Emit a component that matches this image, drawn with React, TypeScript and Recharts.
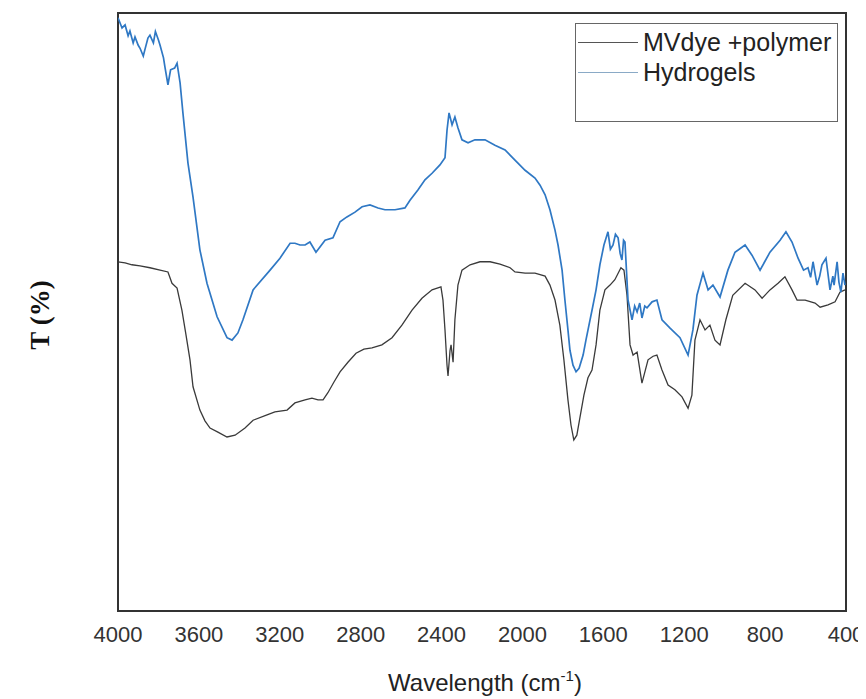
import React from "react";
import { LineChart, Line, XAxis, YAxis, ReferenceArea, Legend } from "recharts";

// Wavenumber (cm^-1) and transmittance (arbitrary %, 0-100 frame scale)
const mvWavenumber = [
  4000, 3965, 3931, 3891, 3842, 3792, 3753, 3733,
  3708, 3684, 3664, 3644, 3629, 3595, 3570, 3545,
  3506, 3461, 3421, 3372, 3332, 3263, 3224, 3164,
  3125, 3075, 3041, 3011, 2986, 2962, 2932, 2902,
  2863, 2823, 2784, 2744, 2695, 2645, 2596, 2546,
  2497, 2447, 2403, 2393, 2383, 2373, 2368, 2358,
  2353, 2343, 2334, 2319, 2299, 2259, 2210, 2160,
  2111, 2061, 2037, 1987, 1938, 1888, 1864, 1839,
  1815, 1795, 1775, 1760, 1746, 1731, 1716, 1696,
  1676, 1656, 1636, 1617, 1592, 1567, 1543, 1513,
  1498, 1483, 1468, 1453, 1433, 1409, 1379, 1354,
  1335, 1310, 1280, 1246, 1211, 1181, 1162, 1147,
  1122, 1097, 1073, 1048, 1023, 994, 960, 899,
  850, 815, 776, 736, 702, 667, 642, 602,
  553, 528, 489, 454, 430, 405,
];
const mvTransmittance = [
  58.4, 58.2, 57.9, 57.7, 57.4, 57.0, 56.7, 54.8,
  54.0, 50.3, 46.2, 42.0, 37.5, 33.6, 31.8, 30.6,
  29.9, 29.1, 29.4, 30.6, 31.9, 32.8, 33.3, 33.6,
  34.8, 35.3, 35.6, 35.3, 35.3, 36.5, 38.3, 40.0,
  41.6, 43.1, 43.8, 44.0, 44.5, 45.7, 47.8, 50.3,
  52.3, 53.7, 54.2, 52.0, 47.0, 41.1, 39.3, 43.6,
  44.5, 41.6, 48.7, 54.5, 57.0, 57.9, 58.4, 58.4,
  58.0, 57.4, 56.7, 56.5, 56.5, 56.0, 54.5, 52.0,
  47.8, 42.0, 35.3, 31.1, 28.6, 29.4, 32.3, 36.1,
  39.0, 40.3, 44.5, 50.3, 53.7, 54.5, 55.4, 57.4,
  57.0, 52.8, 44.5, 42.8, 43.3, 38.1, 42.0, 42.6,
  42.8, 40.3, 37.8, 37.0, 35.8, 33.9, 36.1, 45.3,
  48.7, 47.0, 47.8, 45.3, 44.5, 48.7, 52.8, 54.8,
  53.7, 52.3, 53.7, 54.8, 55.9, 53.7, 52.0, 52.0,
  51.5, 50.8, 51.2, 51.7, 53.3, 53.7,
];

const hgWavenumber = [
  4000, 3980, 3965, 3950, 3941, 3925, 3916, 3900,
  3891, 3875, 3866, 3852, 3842, 3825, 3815, 3800,
  3792, 3775, 3768, 3753, 3740, 3720, 3708, 3693,
  3679, 3654, 3629, 3595, 3560, 3510, 3461, 3436,
  3407, 3382, 3332, 3248, 3199, 3149, 3125, 3100,
  3075, 3051, 3021, 2976, 2937, 2902, 2868, 2828,
  2793, 2754, 2714, 2680, 2630, 2581, 2556, 2517,
  2482, 2447, 2408, 2383, 2373, 2363, 2348, 2334,
  2319, 2299, 2269, 2235, 2185, 2136, 2086, 2037,
  1987, 1938, 1913, 1888, 1864, 1839, 1824, 1804,
  1790, 1775, 1765, 1750, 1735, 1720, 1700, 1686,
  1671, 1656, 1636, 1617, 1597, 1577, 1565, 1552,
  1540, 1527, 1517, 1508, 1500, 1493, 1478, 1458,
  1445, 1433, 1420, 1409, 1395, 1384, 1359, 1335,
  1310, 1270, 1221, 1181, 1157, 1137, 1107, 1082,
  1058, 1023, 984, 949, 899, 865, 825, 776,
  726, 697, 667, 637, 610, 588, 575, 563,
  543, 530, 519, 499, 479, 465, 459, 444,
  435, 425, 415, 405,
];
const hgTransmittance = [
  99.2, 97.5, 98.0, 96.2, 97.0, 95.0, 96.0, 94.6,
  94.1, 92.8, 94.0, 95.8, 96.3, 95.0, 96.9, 95.5,
  94.6, 92.5, 91.0, 88.0, 90.5, 90.8, 91.6, 88.3,
  83.3, 74.9, 69.2, 60.4, 54.8, 49.2, 45.7, 45.3,
  46.5, 48.7, 53.7, 57.0, 59.0, 61.5, 61.5, 61.2,
  61.2, 61.7, 60.0, 62.0, 62.4, 65.1, 65.9, 66.7,
  67.6, 67.9, 67.4, 67.1, 67.1, 67.4, 68.7, 70.4,
  72.1, 73.2, 74.6, 75.8, 80.4, 83.3, 81.3, 82.6,
  80.8, 78.8, 78.3, 78.8, 78.8, 77.9, 77.1, 75.4,
  73.7, 72.4, 71.2, 69.6, 67.1, 63.7, 61.2, 57.0,
  52.0, 47.0, 43.6, 41.1, 40.0, 40.6, 42.8, 45.3,
  47.8, 50.3, 53.7, 57.9, 61.2, 63.4, 60.5, 61.2,
  63.0, 62.4, 59.8, 58.7, 62.0, 61.7, 52.0, 48.7,
  51.0, 50.0, 51.5, 49.0, 51.0, 50.7, 51.7, 52.0,
  48.7, 47.3, 45.7, 42.8, 47.0, 52.8, 56.5, 53.7,
  54.5, 52.5, 57.0, 60.0, 61.2, 59.5, 57.0, 60.0,
  62.0, 63.4, 61.7, 59.0, 57.0, 57.4, 55.8, 58.4,
  54.5, 56.0, 57.9, 59.0, 53.7, 56.0, 54.5, 58.4,
  55.0, 53.3, 56.5, 54.5,
];

const xTicks = [4000, 3600, 3200, 2800, 2400, 2000, 1600, 1200, 800, 400];
const seriesNames = ["MVdye +polymer", "Hydrogels"];
const seriesColors = ["#3a3a3a", "#2f78c4"];
const legendLineColors = ["#555555", "#8aaac6"];

const mvData = mvWavenumber.map((w, i) => ({ w, t: mvTransmittance[i] }));
const hgData = hgWavenumber.map((w, i) => ({ w, t: hgTransmittance[i] }));

const SANS = "'Liberation Sans', Arial, sans-serif";

const LegendBox = () => (
  <div
    style={{
      width: 263,
      height: 99,
      border: "1px solid #666",
      background: "#fff",
      boxSizing: "border-box",
      fontFamily: SANS,
      fontSize: 25,
      color: "#222",
      paddingTop: 3,
    }}
  >
    {seriesNames.map((n, i) => (
      <div key={n} style={{ display: "flex", alignItems: "center", height: 30 }}>
        <div
          style={{
            marginLeft: 2,
            width: 60,
            height: 0,
            borderTop: `1.5px solid ${legendLineColors[i]}`,
          }}
        />
        <span style={{ marginLeft: 5, lineHeight: "28px", whiteSpace: "nowrap" }}>{n}</span>
      </div>
    ))}
  </div>
);

const XTitle = (props: any) => {
  const vb = props.viewBox || {};
  const cx = vb.x + vb.width / 2;
  return (
    <text x={cx + 3} y={683} textAnchor="middle" fill="#222" fontFamily={SANS} fontSize={24}>
      Wavelength (cm
      <tspan fontSize={15} dy={-10}>-1</tspan>
      <tspan dy={10}>)</tspan>
    </text>
  );
};

const YTitle = () => (
  <text
    x={32}
    y={307}
    transform="rotate(-90 32 307)"
    textAnchor="middle"
    dominantBaseline="central"
    fill="#111"
    fontFamily="'Liberation Serif', 'Times New Roman', serif"
    fontWeight="bold"
    fontSize={27}
  >
    T (%)
  </text>
);

export default function App() {
  return (
    <div style={{ width: 858, height: 691 }}>
      <LineChart width={858} height={691} margin={{ top: 5, right: 20, left: 0, bottom: 0 }}>
        <XAxis
          dataKey="w"
          type="number"
          domain={[400, 4000]}
          reversed
          ticks={xTicks}
          interval={0}
          allowDataOverflow
          tickLine={false}
          tickSize={0}
          tickMargin={15}
          axisLine={false}
          height={88}
          tick={{ fill: "#333", fontSize: 22, fontFamily: SANS }}
          label={<XTitle />}
        />
        <YAxis
          type="number"
          domain={[0, 100]}
          width={110}
          tick={false}
          tickLine={false}
          axisLine={false}
          allowDataOverflow
          label={<YTitle />}
        />
        <ReferenceArea
          x1={4000}
          x2={400}
          y1={0}
          y2={100}
          fill="none"
          stroke="#333"
          strokeWidth={2}
          ifOverflow="visible"
        />
        <Line
          data={mvData}
          dataKey="t"
          name={seriesNames[0]}
          type="linear"
          stroke={seriesColors[0]}
          strokeWidth={1.3}
          dot={false}
          isAnimationActive={false}
        />
        <Line
          data={hgData}
          dataKey="t"
          name={seriesNames[1]}
          type="linear"
          stroke={seriesColors[1]}
          strokeWidth={1.7}
          dot={false}
          isAnimationActive={false}
        />
        <Legend
          layout="vertical"
          align="center"
          verticalAlign="middle"
          content={<LegendBox />}
          wrapperStyle={{ position: "absolute", left: 567, top: 15, width: 263, height: 99 }}
        />
      </LineChart>
    </div>
  );
}
